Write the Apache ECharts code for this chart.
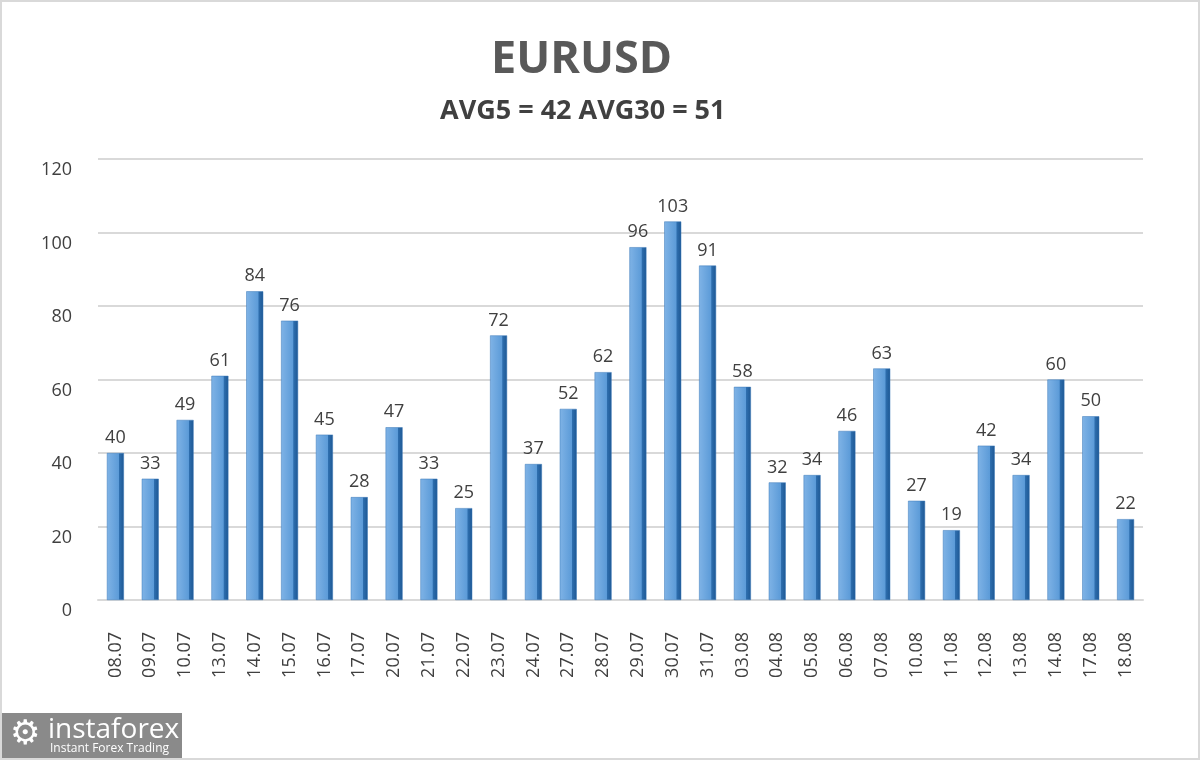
<!DOCTYPE html>
<html>
<head>
<meta charset="utf-8">
<script src="https://cdn.jsdelivr.net/npm/echarts@6/dist/echarts.min.js"></script>
<style>
html,body{margin:0;padding:0;background:#fff;}
#c{width:1200px;height:760px;box-sizing:border-box;border:2px solid #d9d9d9;}
</style>
</head>
<body>
<div id="c"></div>
<script>
const categories = ["08.07","09.07","10.07","13.07","14.07","15.07","16.07","17.07","20.07","21.07","22.07","23.07","24.07","27.07","28.07","29.07","30.07","31.07","03.08","04.08","05.08","06.08","07.08","10.08","11.08","12.08","13.08","14.08","17.08","18.08"];
const values = [40,33,49,61,84,76,45,28,47,33,25,72,37,52,62,96,103,91,58,32,34,46,63,27,19,42,34,60,50,22];
const yTicks = [0,20,40,60,80,100,120];
const titleText = "EURUSD";
const subtitleText = "AVG5 = 42 AVG30 = 51";

const chart = echarts.init(document.getElementById('c'));
const font = '"Open Sans", "Liberation Sans", sans-serif';
chart.setOption({
  backgroundColor: '#ffffff',
  animation: false,
  title: [
    {text: titleText, left: 489, top: 36, padding: 0, textStyle: {fontFamily: font, fontSize: 45, fontWeight: 'bold', color: '#595959'}},
    {text: subtitleText, left: 438, top: 96, padding: 0, textStyle: {fontFamily: font, fontSize: 27, fontWeight: 'bold', color: '#404040'}}
  ],
  grid: {left: 96, right: 55, top: 157, bottom: 158, containLabel: false},
  xAxis: {
    type: 'category',
    data: categories,
    axisLine: {show: true, lineStyle: {color: '#d9d9d9', width: 2}},
    axisTick: {show: false},
    axisLabel: {rotate: 90, margin: 32, fontFamily: font, fontSize: 18, color: '#404040'}
  },
  yAxis: {
    type: 'value',
    min: yTicks[0], max: yTicks[yTicks.length-1], interval: 20,
    axisLine: {show: false},
    axisTick: {show: false},
    splitLine: {lineStyle: {color: '#d9d9d9', width: 2}},
    axisLabel: {margin: 26, fontFamily: font, fontSize: 18, color: '#404040', verticalAlign: 'top', lineHeight: 22}
  },
  series: [{
    type: 'bar',
    data: values,
    barWidth: 17,
    itemStyle: {
      color: new echarts.graphic.LinearGradient(0, 0, 1, 0, [
        {offset: 0, color: '#7fb3e6'},
        {offset: 0.7, color: '#5c9bd8'},
        {offset: 0.74, color: '#2e6eae'},
        {offset: 1, color: '#1d5793'}
      ]),
      borderColor: '#3b78b8',
      borderWidth: 0.5
    },
    label: {show: true, position: 'top', distance: 6, fontFamily: font, fontSize: 18, color: '#404040'}
  }],
  graphic: [
    {type: 'rect', left: 0, bottom: 0, shape: {width: 180, height: 45}, style: {fill: '#8a8a8a'}},
    {type: 'text', left: 46, bottom: 14, style: {text: 'instaforex', fill: '#ffffff', font: '28px "Open Sans", sans-serif'}},
    {type: 'text', left: 48, bottom: 3, style: {text: 'Instant Forex Trading', fill: '#ffffff', font: '12px "Open Sans", sans-serif'}},
    {type: 'text', left: 8, bottom: 6, style: {text: '⚙', fill: '#ffffff', font: '34px "DejaVu Sans", sans-serif'}}
  ]
});
</script>
</body>
</html>
